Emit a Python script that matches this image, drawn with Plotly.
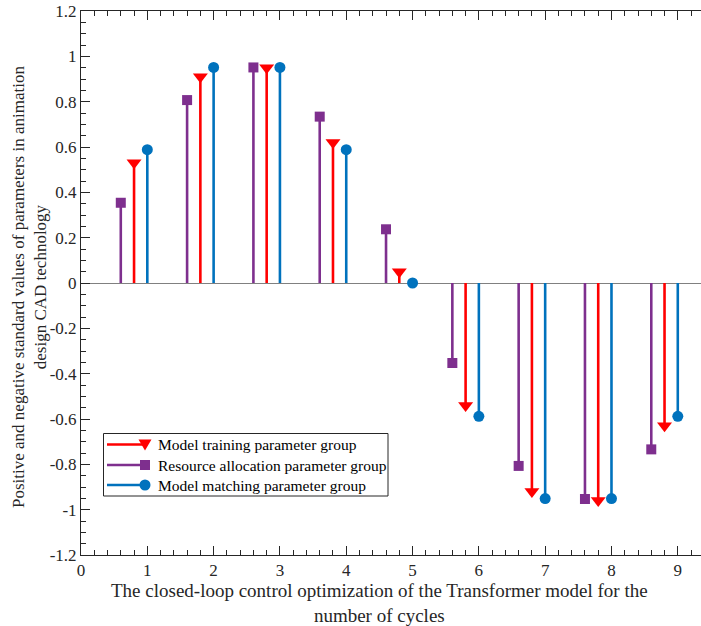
import plotly.graph_objects as go

cycles = [1, 2, 3, 4, 5, 6, 7, 8, 9]
# offsets of each group relative to the cycle index
offset_training = -0.2
offset_resource = -0.4
offset_matching = 0.0

training = [0.53, 0.91, 0.95, 0.62, 0.05, -0.54, -0.92, -0.96, -0.63]
resource = [0.354, 0.807, 0.951, 0.734, 0.237, -0.353, -0.807, -0.953, -0.734]
matching = [0.588, 0.951, 0.951, 0.588, 0.0, -0.588, -0.951, -0.951, -0.588]

names = ["Model training parameter group",
         "Resource allocation parameter group",
         "Model matching parameter group"]
colors = ["#FF0000", "#7E2F8E", "#0072BD"]
symbols = ["triangle-down", "square", "circle"]
sizes = [13, 10, 11]

y_ticks = [-1.2, -1, -0.8, -0.6, -0.4, -0.2, 0, 0.2, 0.4, 0.6, 0.8, 1, 1.2]
y_tick_text = ["-1.2", "-1", "-0.8", "-0.6", "-0.4", "-0.2", "0", "0.2", "0.4", "0.6", "0.8", "1", "1.2"]
x_ticks = [0, 1, 2, 3, 4, 5, 6, 7, 8, 9]

FONT = "Liberation Serif"

fig = go.Figure()
series = [(training, offset_training), (resource, offset_resource), (matching, offset_matching)]
for (vals, off), name, col, sym, sz in zip(series, names, colors, symbols, sizes):
    xs = [c + off for c in cycles]
    sx, sy = [], []
    for x, v in zip(xs, vals):
        sx += [x, x, None]
        sy += [0, v, None]
    fig.add_trace(go.Scatter(x=sx, y=sy, mode="lines", line=dict(color=col, width=2.6),
                             showlegend=False, hoverinfo="skip"))
    fig.add_trace(go.Scatter(x=xs, y=vals, mode="markers",
                             marker=dict(symbol=sym, size=sz, color=col, line=dict(width=0)),
                             showlegend=False, name=name))

# ---- hand-built legend (MATLAB style: marker at the right end of the line sample)
PX0, PW = 81.0, 620.0     # plot area left / width in page pixels
PY1, PH = 555.0, 544.0    # plot area bottom / height in page pixels
def px(X):
    return (X - PX0) / PW
def py(Y):
    return (PY1 - Y) / PH

shapes = []
annotations = []
shapes.append(dict(type="rect", xref="paper", yref="paper",
                   x0=px(103.5), x1=px(388), y0=py(496), y1=py(433.5),
                   line=dict(color="#262626", width=1), fillcolor="white", layer="above"))
rows = [444.5, 465, 485]
for name, col, sym, Y in zip(names, colors, symbols, rows):
    shapes.append(dict(type="line", xref="paper", yref="paper",
                       x0=px(107), x1=px(145), y0=py(Y), y1=py(Y),
                       line=dict(color=col, width=2.6), layer="above"))
    mx = px(145)
    myy = py(Y)
    if sym == "circle":
        shapes.append(dict(type="circle", xref="paper", yref="paper", xsizemode="pixel",
                           ysizemode="pixel", xanchor=mx, yanchor=myy,
                           x0=-5.5, x1=5.5, y0=-5.5, y1=5.5,
                           fillcolor=col, line=dict(width=0), layer="above"))
    elif sym == "square":
        shapes.append(dict(type="rect", xref="paper", yref="paper", xsizemode="pixel",
                           ysizemode="pixel", xanchor=mx, yanchor=myy,
                           x0=-5, x1=5, y0=-5, y1=5,
                           fillcolor=col, line=dict(width=0), layer="above"))
    else:
        shapes.append(dict(type="path", xref="paper", yref="paper", xsizemode="pixel",
                           ysizemode="pixel", xanchor=mx, yanchor=myy,
                           path="M -6.5,5 L 6.5,5 L 0,-6 Z",
                           fillcolor=col, line=dict(width=0), layer="above"))
    annotations.append(dict(text=name, xref="paper", yref="paper", x=px(156), y=myy,
                            xanchor="left", yanchor="middle", showarrow=False,
                            font=dict(family=FONT, size=15.5, color="#000000")))

annotations += [
    dict(text="The closed-loop control optimization of the Transformer model for the<br>number of cycles",
         xref="paper", yref="paper", x=0.482, y=-0.088, xanchor="center", yanchor="middle",
         showarrow=False, font=dict(family=FONT, size=19, color="#262626")),
    dict(text="Positive and negative standard values of parameters in animation<br>design CAD technology",
         xref="paper", yref="paper", x=-0.082, y=0.493, xanchor="center", yanchor="middle",
         textangle=-90, showarrow=False, font=dict(family=FONT, size=17, color="#262626")),
]

fig.update_layout(
    width=701, height=626,
    margin=dict(l=81, r=0, t=11, b=71, autoexpand=False),
    paper_bgcolor="white", plot_bgcolor="white",
    font=dict(family=FONT, size=16, color="#262626"),
    showlegend=False,
    xaxis=dict(range=[0, 9.35], tickvals=x_ticks, ticks="inside", ticklen=9,
               tickcolor="#262626", showline=True, linecolor="#262626", linewidth=1,
               mirror="ticks", showgrid=False, zeroline=False, ticklabeloverflow="allow",
               automargin=False,
               minor=dict(dtick=0.2, ticks="inside", ticklen=5, tickcolor="#262626", showgrid=False),
               tickfont=dict(family=FONT, size=17, color="#262626")),
    yaxis=dict(range=[-1.2, 1.2], tickvals=y_ticks, ticktext=y_tick_text, ticks="inside",
               ticklen=9, tickcolor="#262626", showline=True, linecolor="#262626", linewidth=1,
               showgrid=False, zeroline=True, zerolinecolor="#808080", zerolinewidth=1,
               ticklabeloverflow="allow", automargin=False,
               minor=dict(dtick=0.05, ticks="inside", ticklen=5, tickcolor="#262626", showgrid=False),
               tickfont=dict(family=FONT, size=17, color="#262626")),
    shapes=shapes,
    annotations=annotations,
)

# remove the default 8px page margin so the figure sits at the window's corner
fig.write_html("out.html", config={"displayModeBar": False},
               post_script="document.body.style.margin='0';document.body.style.overflow='hidden';")
